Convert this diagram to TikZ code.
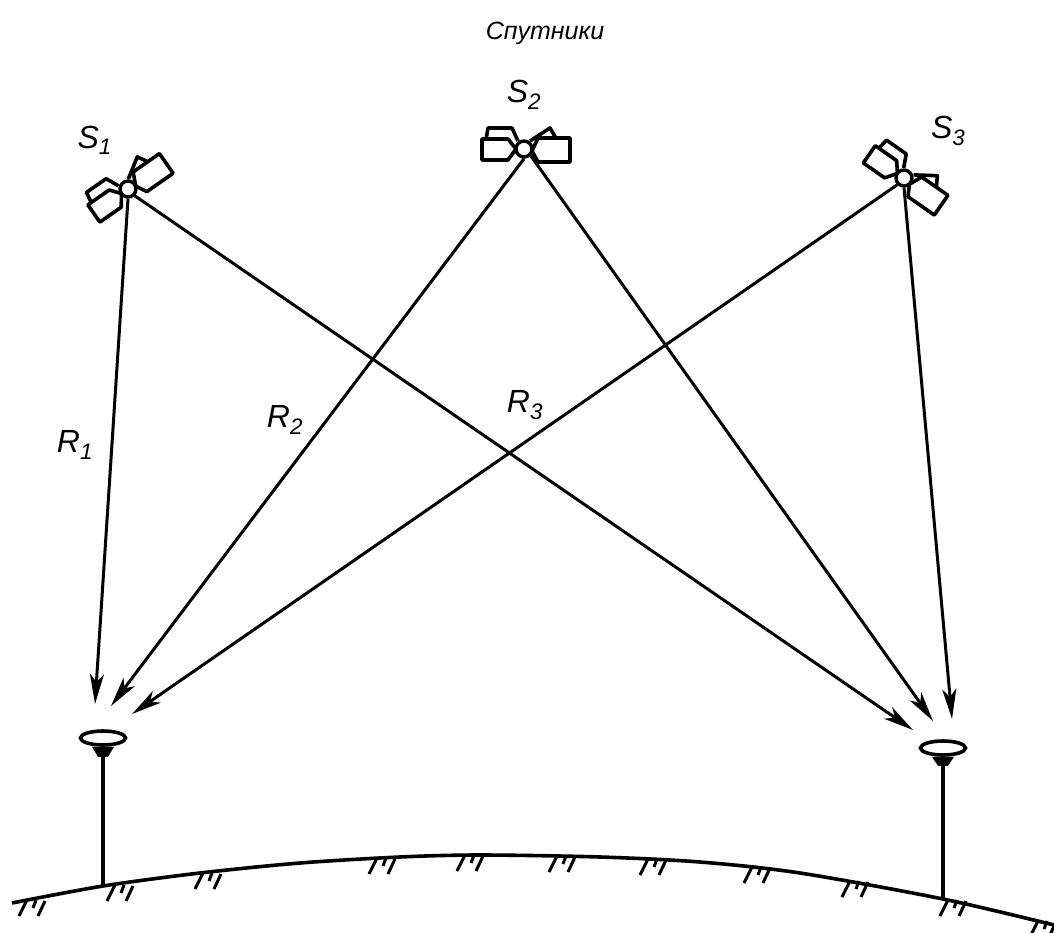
\documentclass[tikz,border=0pt]{standalone}
\usepackage{fontspec}
\setmainfont{Liberation Sans}
\usetikzlibrary{arrows.meta,positioning,shapes.geometric}

\begin{document}
\begin{tikzpicture}[
  x=1pt, y=-1pt,
  hub/.style={draw, circle, line width=3.4pt, minimum size=16pt, inner sep=0pt, fill=white},
  dish/.style={draw, ellipse, line width=3.6pt, minimum width=45pt, minimum height=14pt, inner sep=0pt, fill=white},
  lab/.style={font=\fontsize{32}{36}\selectfont\itshape, inner sep=0pt},
  title/.style={font=\fontsize{25}{30}\selectfont\itshape, inner sep=0pt},
  arr/.style={-{Stealth[length=30pt,width=14pt,inset=8pt]}, line width=3pt},
  mast/.style={line width=4pt},
  hatch/.style={line width=3pt},
  panel/.style={line width=3.6pt, line join=round, fill=white},
  satellite/.pic={
    \draw[panel] (-6,-8) -- (-12,-21) -- (-36,-21) -- (-38,-9);
    \draw[panel] (6,-8) -- (26,-21) -- (33,-9);
    \draw[panel] (-42,-10) -- (-16,-10) -- (-8,0) -- (-16,11) -- (-42,11) -- cycle;
    \draw[panel] (14,-11) -- (46,-11) -- (46,13) -- (14,13) -- (8,2) -- cycle;
  }
]
\useasboundingbox (0,0) rectangle (1054,933);
% satellites
\pic[rotate=35] at (128,189) {satellite};
\pic at (524,149) {satellite};
\pic[rotate=-35] at (904,178) {satellite};
\node[hub] (s1) at (128,189) {};
\node[hub] (s2) at (524,149) {};
\node[hub] (s3) at (904,178) {};
\node[title] at (545,33) {Спутники};
\node[lab, above left=27pt and 9pt of s1] (s1lab) {S\textsubscript{1}};
\node[lab, above=30pt of s2] (s2lab) {S\textsubscript{2}};
\node[lab, above right=25pt and 20pt of s3] (s3lab) {S\textsubscript{3}};
% receivers
\node[dish] (ant1) at (103,738) {};
\node[dish] (ant2) at (943,748) {};
\fill ([xshift=-11pt]ant1.south) -- ([xshift=11pt]ant1.south) -- ([xshift=5pt,yshift=-10pt]ant1.south) -- ([xshift=-5pt,yshift=-10pt]ant1.south) -- cycle;
\fill ([xshift=-11pt]ant2.south) -- ([xshift=11pt]ant2.south) -- ([xshift=5pt,yshift=-9pt]ant2.south) -- ([xshift=-5pt,yshift=-9pt]ant2.south) -- cycle;
\coordinate (base1) at (103,887);
\coordinate (base2) at (943,899);
\draw[mast] (ant1.south) -- (base1);
\draw[mast] (ant2.south) -- (base2);
% ground
\draw[line width=3.6pt] plot[smooth] coordinates {(12,903) (103,886) (200,873) (300,863) (400,857) (480,855) (600,857) (700,862) (800,873) (943,899) (1054,925)};
\foreach \gx/\gy in {27/900, 115/885, 203/873, 377/858, 465/855, 557/856, 648/859, 752/867, 850/881, 948/900, 1038/921}
  \draw[hatch] (\gx,\gy) -- ++(-8,16) (\gx+9,\gy) -- ++(-3,8) (\gx+18,\gy+1) -- ++(-7,15);
% rays
\coordinate (e11) at (95,704);
\coordinate (e12) at (111,706);
\coordinate (e13) at (132,714);
\coordinate (e21) at (913,730);
\coordinate (e22) at (933,721);
\coordinate (e23) at (952,719);
\draw[arr] (s1.south) -- (e11);
\draw[arr] (s2.south) -- (e12);
\draw[arr] (s3.south west) -- (e13);
\draw[arr] (s1.south east) -- (e21);
\draw[arr] (s2.south east) -- (e22);
\draw[arr] (s3.south) -- (e23);
\node[lab] (r1) at (75,445) {R\textsubscript{1}};
\node[lab] (r2) at (285,420) {R\textsubscript{2}};
\node[lab] (r3) at (525,405) {R\textsubscript{3}};
\end{tikzpicture}
\end{document}
